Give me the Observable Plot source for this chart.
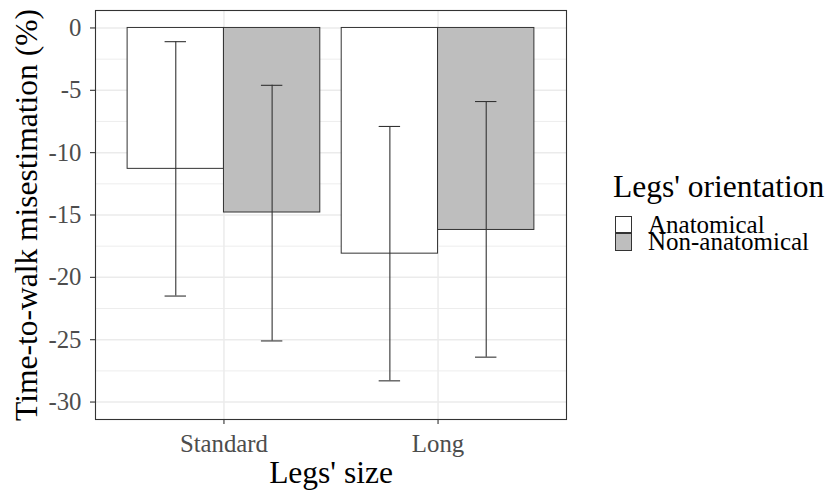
<!DOCTYPE html>
<html>
<head>
<meta charset="utf-8">
<script src="https://cdn.jsdelivr.net/npm/d3@7"></script>
<script src="https://cdn.jsdelivr.net/npm/@observablehq/plot@0.6"></script>
<style>
  html, body { margin: 0; padding: 0; background: #fff; }
  #wrap { position: relative; width: 829px; height: 491px; font-family: "Liberation Serif", "DejaVu Serif", serif; }
  #legend { position: absolute; left: 613px; top: 170.6px; color: #000; }
  #legend .title { font-size: 31.5px; line-height: 31.5px; height: 45.4px; white-space: nowrap; }
  #legend .row { display: flex; align-items: flex-start; height: 17.3px; }
  #legend .key { box-sizing: border-box; width: 17.3px; height: 17.3px; border: 0.8px solid #333; margin-left: 2px; }
  #legend .lab { font-size: 25px; line-height: 17.3px; margin-left: 15.7px; white-space: nowrap; }
</style>
</head>
<body>
<div id="wrap">
  <div id="chart"></div>
  <div id="legend"></div>
</div>
<script>
// ---- data ----
const sizes = ["Standard", "Long"];
const orientations = ["Anatomical", "Non-anatomical"];
const orientationFills = ["#ffffff", "#bebebe"];
const anatomicalMean = [-11.3, -18.1];
const anatomicalLow = [-21.5, -28.3];
const anatomicalHigh = [-1.1, -7.9];
const nonAnatomicalMean = [-14.8, -16.2];
const nonAnatomicalLow = [-25.1, -26.4];
const nonAnatomicalHigh = [-4.6, -5.9];
const yTicks = [-30, -25, -20, -15, -10, -5, 0];
const yTitle = "Time-to-walk misestimation (%)";
const xTitle = "Legs' size";
const legendTitle = "Legs' orientation";

// ---- table (dodged like ggplot position_dodge(0.9)) ----
const dodge = 0.9, capWidth = 0.1;
const series = [
  {mean: anatomicalMean, low: anatomicalLow, high: anatomicalHigh},
  {mean: nonAnatomicalMean, low: nonAnatomicalLow, high: nonAnatomicalHigh}
];
const rows = [];
sizes.forEach((s, i) => {
  series.forEach((ser, j) => {
    const w = dodge / orientations.length;
    const x1 = (i + 1) - dodge / 2 + j * w;
    rows.push({
      size: s, orientation: orientations[j],
      x1, x2: x1 + w, xc: x1 + w / 2,
      mean: ser.mean[i], low: ser.low[i], high: ser.high[i]
    });
  });
});
const minorTicks = d3.pairs(yTicks).map(([a, b]) => (a + b) / 2);
const xPositions = sizes.map((s, i) => i + 1);

const chart = Plot.plot({
  width: 829,
  height: 491,
  marginLeft: 95,
  marginRight: 263,
  marginTop: 10,
  marginBottom: 72,
  style: {fontFamily: "Liberation Serif", background: "#fff", overflow: "visible"},
  x: {type: "linear", domain: [0.4, sizes.length + 0.6]},
  y: {domain: [-31.4, 1.4]},
  color: {domain: orientations, range: orientationFills},
  marks: [
    Plot.gridY({ticks: minorTicks, stroke: "#ebebeb", strokeOpacity: 1, strokeWidth: 0.9}),
    Plot.gridY({ticks: yTicks, stroke: "#ebebeb", strokeOpacity: 1, strokeWidth: 1.5}),
    Plot.gridX({ticks: xPositions, stroke: "#ebebeb", strokeOpacity: 1, strokeWidth: 1.5}),
    Plot.rect(rows, {x1: "x1", x2: "x2", y1: 0, y2: "mean", fill: "orientation", stroke: "#333", strokeWidth: 1}),
    Plot.ruleX(rows, {x: "xc", y1: "low", y2: "high", stroke: "#333", strokeWidth: 1.1}),
    Plot.ruleY(rows, {y: "low", x1: d => d.xc - capWidth / 2, x2: d => d.xc + capWidth / 2, stroke: "#333", strokeWidth: 1.1}),
    Plot.ruleY(rows, {y: "high", x1: d => d.xc - capWidth / 2, x2: d => d.xc + capWidth / 2, stroke: "#333", strokeWidth: 1.1}),
    Plot.frame({stroke: "#333", strokeWidth: 1.1}),
    Plot.axisY({ticks: yTicks, tickFormat: d => String(d), tickSize: 5, tickPadding: 9,
      fontSize: 24.8, fill: "#4d4d4d", stroke: "#333", strokeWidth: 1.1, label: null}),
    Plot.axisY({ticks: [], label: yTitle, labelAnchor: "center", labelArrow: "none",
      labelOffset: 81, fontSize: 31.5, fill: "#000"}),
    Plot.axisX({ticks: xPositions, tickFormat: d => sizes[d - 1], tickSize: 5, tickPadding: 10,
      fontSize: 24.8, fill: "#4d4d4d", stroke: "#333", strokeWidth: 1.1, label: null}),
    Plot.axisX({ticks: [], label: xTitle, labelAnchor: "center", labelArrow: "none",
      labelOffset: 63, fontSize: 31.5, fill: "#000"})
  ]
});
document.getElementById("chart").appendChild(chart);

// ---- legend ----
const legend = document.getElementById("legend");
const t = document.createElement("div");
t.className = "title";
t.textContent = legendTitle;
legend.appendChild(t);
orientations.forEach((o, j) => {
  const row = document.createElement("div");
  row.className = "row";
  const key = document.createElement("div");
  key.className = "key";
  key.style.background = orientationFills[j];
  const lab = document.createElement("div");
  lab.className = "lab";
  lab.textContent = o;
  row.appendChild(key);
  row.appendChild(lab);
  legend.appendChild(row);
});
</script>
</body>
</html>
